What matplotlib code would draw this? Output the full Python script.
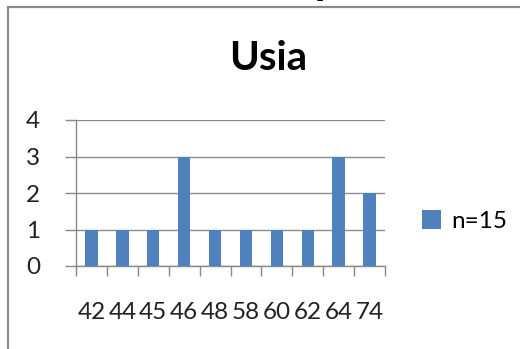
import matplotlib
matplotlib.use("Agg")
import matplotlib.pyplot as plt
from matplotlib.patches import Rectangle
import numpy as np

categories = ["42", "44", "45", "46", "48", "58", "60", "62", "64", "74"]
values = [1, 1, 1, 3, 1, 1, 1, 1, 3, 2]
series_label = "n=15"
title = "Usia"
yticks = [0, 1, 2, 3, 4]

W, H = 520, 349
fig = plt.figure(figsize=(W / 100, H / 100), dpi=100)
plt.rcParams['font.family'] = ['Lato', 'DejaVu Sans']

# outer chart border
fig.patches.append(Rectangle((8 / W, -0.1), 1.2, 1 - 7 / H + 0.1, transform=fig.transFigure,
                             fill=False, edgecolor="#8a8a8a", linewidth=1.6))
# partially visible text above (cut off)
fig.text(323 / W, 1 + 4 / H, "p", ha="center", va="baseline", fontsize=16,
         fontweight="bold", family="Liberation Serif", color="black")

ax = fig.add_axes([76 / W, 1 - 266 / H, (385 - 76) / W, (266 - 120) / H])
x = np.arange(len(categories))
ax.bar(x, values, width=0.4, color="#4F81BD", label=series_label, zorder=3)
ax.set_xlim(-0.5, len(categories) - 0.5)
ax.set_ylim(0, 4)
ax.set_yticks(yticks)
ax.set_xticks(x)
ax.set_xticklabels(categories)
ax.set_xticks(np.arange(-0.5, len(categories), 1.0), minor=True)
ax.tick_params(axis="x", which="major", length=0, pad=26, labelsize=17.5, colors="#222222")
ax.tick_params(axis="x", which="minor", length=7, width=1, color="#888888", direction="out")
ax.tick_params(axis="y", length=8, width=1, color="#888888", pad=18, labelsize=17.5,
               labelcolor="#222222")
ax.grid(axis="y", color="#8c8c8c", linewidth=1, zorder=0)
for s in ["top", "right"]:
    ax.spines[s].set_visible(False)
for s in ["left", "bottom"]:
    ax.spines[s].set_color("#888888")
    ax.spines[s].set_linewidth(1)

fig.text(268 / W, 1 - 58 / H, title, ha="center", va="center", fontsize=29, fontweight="bold")

leg = fig.legend(loc="center left", bbox_to_anchor=(422 / W, 1 - 221 / H), frameon=False,
                 fontsize=17.5, handlelength=0.8, handleheight=0.8, handletextpad=0.4,
                 borderpad=0, borderaxespad=0)

fig.savefig("out.png", dpi=100)
